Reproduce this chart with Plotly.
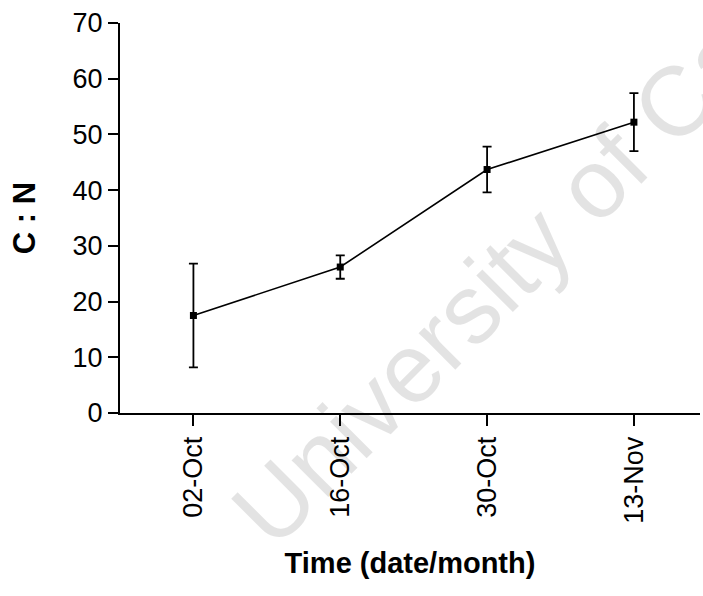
import plotly.graph_objects as go

# Sampling dates and mean C:N ratio with error bars
dates = ["02-Oct", "16-Oct", "30-Oct", "13-Nov"]
cn_ratio = [17.5, 26.2, 43.7, 52.2]
cn_error = [9.3, 2.1, 4.1, 5.2]
y_ticks = [0, 10, 20, 30, 40, 50, 60, 70]

FONT = "Arial, Liberation Sans, Helvetica, sans-serif"

fig = go.Figure()
fig.add_trace(go.Scatter(
    x=list(range(len(dates))),
    y=cn_ratio,
    mode="lines+markers",
    line=dict(color="black", width=1.6),
    marker=dict(symbol="square", size=7, color="black"),
    error_y=dict(type="data", array=cn_error, visible=True,
                 color="black", thickness=1.8, width=4.5),
    showlegend=False,
    cliponaxis=False,
))

# faint diagonal watermark (translucent so dark marks stay dark beneath it)
fig.add_annotation(
    text="University of Ca", xref="paper", yref="paper",
    x=(494 - 120) / 580, y=(413 - 283) / 390,
    xanchor="center", yanchor="middle",
    textangle=-45, showarrow=False,
    font=dict(family=FONT, size=98, color="rgba(0,0,0,0.11)"),
)

fig.update_layout(
    width=703, height=596,
    margin=dict(l=120, r=3, t=23, b=183),
    paper_bgcolor="white", plot_bgcolor="rgba(0,0,0,0)",
    font=dict(family=FONT, color="black"),
    xaxis=dict(
        tickmode="array", tickvals=list(range(len(dates))), ticktext=dates,
        range=[-0.5, 3.45], tickangle=-90,
        showline=True, linecolor="black", linewidth=2,
        ticks="outside", ticklen=11, tickwidth=2, tickcolor="black",
        showgrid=False, zeroline=False,
        tickfont=dict(family=FONT, size=27, color="black"),
        title=dict(text="<b>Time (date/month)</b>", standoff=30,
                   font=dict(family=FONT, size=29, color="black")),
    ),
    yaxis=dict(
        range=[0, 70], tickmode="array", tickvals=y_ticks,
        showline=True, linecolor="black", linewidth=2,
        ticks="outside", ticklen=10, tickwidth=2, tickcolor="black",
        showgrid=False, zeroline=False,
        tickfont=dict(family=FONT, size=27, color="black"),
        title=dict(text="<b>C : N</b>", standoff=28,
                   font=dict(family=FONT, size=31, color="black")),
    ),
)

fig.write_html("out.html")
